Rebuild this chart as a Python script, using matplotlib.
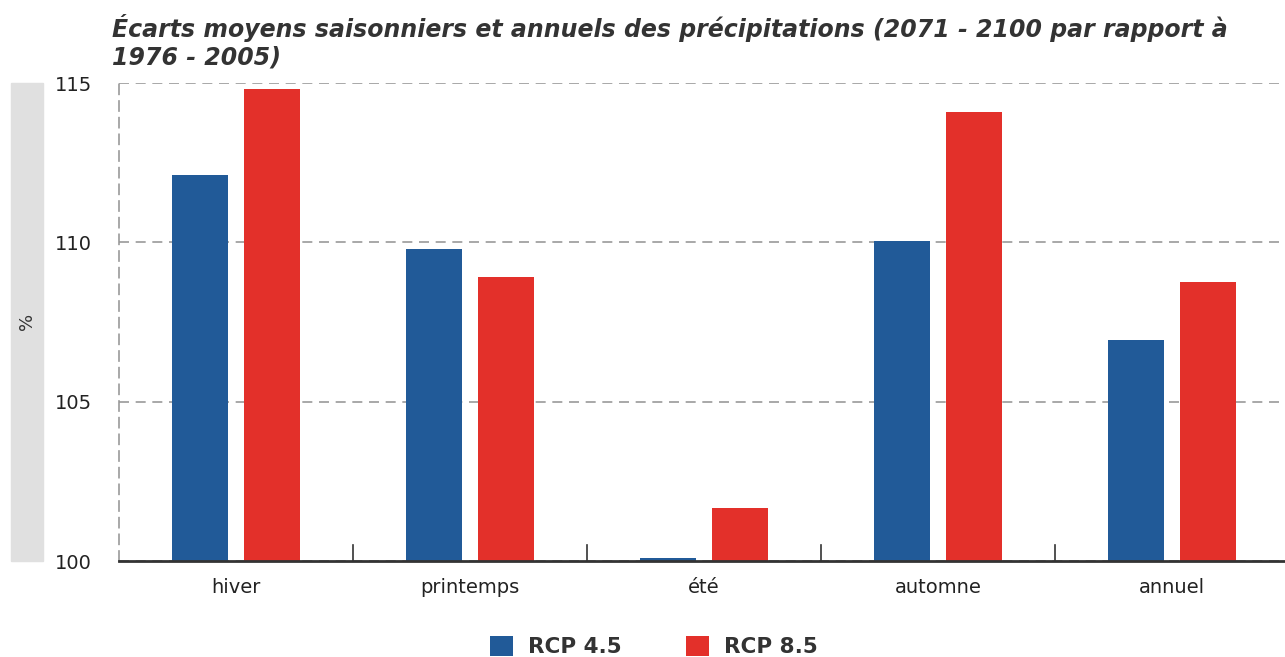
import matplotlib
matplotlib.use("Agg")
import matplotlib.pyplot as plt
from matplotlib.patches import Rectangle
import numpy as np

plt.rcParams["font.family"] = ["DejaVu Sans"]

categories = ["hiver", "printemps", "été", "automne", "annuel"]
rcp45 = [112.1, 109.8, 100.1, 110.05, 106.95]
rcp85 = [114.8, 108.9, 101.65, 114.1, 108.75]
series_names = ["RCP 4.5", "RCP 8.5"]
colors = ["#215a98", "#e3302a"]
yticks = [100, 105, 110, 115]

W, H = 1285, 657
fig = plt.figure(figsize=(W / 100, H / 100), dpi=100)
ax = fig.add_axes([119 / W, 1 - 561 / H, (1285 - 119) / W, (561 - 83) / H])

x = np.arange(len(categories))
bw = 0.24
off = 0.154
ax.bar(x - off, [v - 100 for v in rcp45], bw, bottom=100, color=colors[0], label=series_names[0], zorder=3)
ax.bar(x + off, [v - 100 for v in rcp85], bw, bottom=100, color=colors[1], label=series_names[1], zorder=3)

ax.set_ylim(100, 115)
ax.set_xlim(-0.5, 4.5 - (1289 - 1285) / 234)
ax.set_yticks(yticks)
ax.set_yticklabels([str(t) for t in yticks], fontsize=14, color="#222222", ha="left")
ax.tick_params(axis="y", length=0, pad=46)
ax.set_xticks(x)
ax.set_xticklabels(categories, fontsize=14, color="#222222")
ax.tick_params(axis="x", length=0, pad=12)
for b in np.arange(0.5, 4.5, 1):
    ax.plot([b, b], [100, 100 + 0.5], color="#333333", lw=1.2, zorder=4, clip_on=False)

ax.grid(axis="y", color="#999999", linestyle=(0, (6, 4)), lw=1.2, zorder=0)
for s in ["top", "right"]:
    ax.spines[s].set_visible(False)
ax.spines["left"].set_color("#999999")
ax.spines["left"].set_linestyle((0, (6, 4)))
ax.spines["left"].set_linewidth(1.2)
ax.spines["bottom"].set_color("#333333")
ax.spines["bottom"].set_linewidth(2)
ax.spines["bottom"].set_zorder(5)

# grey band with % label
fig.patches.append(Rectangle((11 / W, 1 - 561 / H), 32 / W, (561 - 83) / H,
                             transform=fig.transFigure, color="#e0e0e0", zorder=0))
fig.text(27 / W, 1 - 321 / H, "%", rotation=90, ha="center", va="center", fontsize=13, color="#333333")

fig.text(112 / W, 1 - 14 / H,
         "Écarts moyens saisonniers et annuels des précipitations (2071 - 2100 par rapport à\n1976 - 2005)",
         ha="left", va="top", fontsize=17, fontweight="bold", fontstyle="italic", color="#333333",
         linespacing=1.17)

leg = fig.legend(loc="lower center", bbox_to_anchor=(654 / W, -0.03), ncol=2, frameon=False,
                 handlelength=1.05, handleheight=1.05, columnspacing=3.0, handletextpad=0.7,
                 prop={"weight": "bold", "size": 15.5})
for t in leg.get_texts():
    t.set_color("#333333")

fig.savefig("out.png", dpi=100)
